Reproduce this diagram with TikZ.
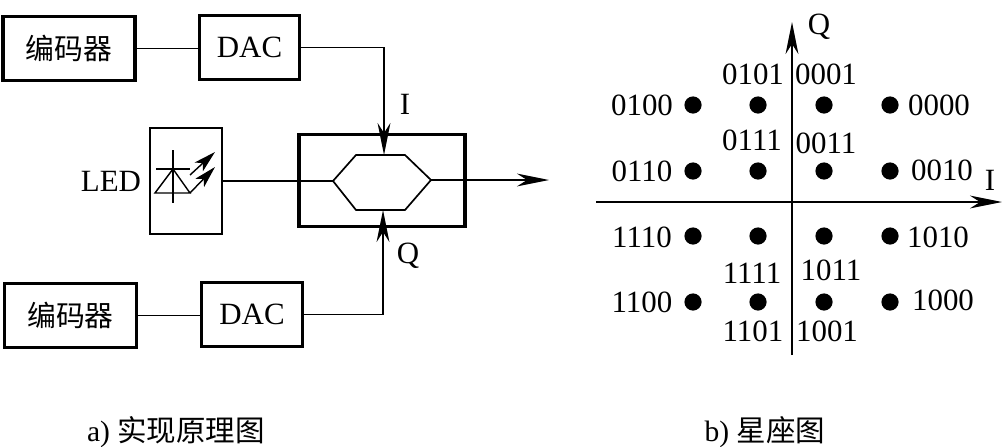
\documentclass[tikz,border=0pt]{standalone}
\usepackage{fontspec}
\setmainfont{Liberation Serif}
\newfontfamily\cjk{Noto Sans CJK SC}
\usetikzlibrary{arrows.meta,positioning,calc}
\begin{document}
\begin{tikzpicture}[
    x=0.025cm, y=-0.025cm,
    block/.style={rectangle, draw, line width=2.2pt, minimum height=1.6cm, align=center, inner sep=0pt, font=\fontsize{22}{24}\selectfont},
    thinbox/.style={rectangle, draw, line width=1pt, inner sep=0pt},
    label/.style={inner sep=0pt, font=\fontsize{22}{24}\selectfont},
    caption/.style={inner sep=0pt, font=\fontsize{21}{24}\selectfont},
    pointd/.style={circle, fill=black, inner sep=0pt, minimum size=0.43cm},
    wire/.style={line width=1pt},
    arrow/.style={-{Stealth[length=0.8cm, width=0.32cm, inset=0.25cm]}, line width=1pt},
    bigwire/.style={line width=1.6pt},
    beam/.style={-{Stealth[length=0.55cm, width=0.3cm, inset=0.14cm]}, line width=1pt}
]
    \useasboundingbox (0,0) rectangle (1002,447);

    % Left: blocks
    \node[block, minimum width=3.3cm] (enc1) at (69,48.5) {\fontsize{20.5}{24}\selectfont\cjk 编码器};
    \node[block, minimum width=2.52cm] (dac1) at (249.5,47.5) {DAC};
    \node[block, minimum width=3.3cm] (enc2) at (70.5,315.5) {\fontsize{20.5}{24}\selectfont\cjk 编码器};
    \node[block, minimum width=2.52cm] (dac2) at (252,314.5) {DAC};
    \node[thinbox, minimum width=1.8cm, minimum height=2.65cm] (led) at (186,181) {};
    \node[block, minimum width=4.15cm, minimum height=2.3cm] (mod) at (382,180.5) {};
    \node[label, left=0.2cm of led] (ledtext) {LED};

    % Hexagon
    \coordinate (hexl) at (333,181);
    \coordinate (hexr) at (431,180);
    \coordinate (hextl) at (356,155);
    \coordinate (hext) at (384,155);
    \coordinate (hextr) at (405,155);
    \coordinate (hexbl) at (356,210);
    \coordinate (hexb) at (383,210);
    \coordinate (hexbr) at (405,210);
    \draw[line width=1.2pt] (hexl) -- (hextl) -- (hextr) -- (hexr) -- (hexbr) -- (hexbl) -- cycle;

    % LED symbol
    \coordinate (dtop) at (173,150);
    \coordinate (dbot) at (173,203);
    \coordinate (barl) at (156,169);
    \coordinate (barr) at (190,169);
    \coordinate (apex) at (173,169);
    \coordinate (basel) at (155,193);
    \coordinate (baser) at (190,193);
    \coordinate (ray1) at (190,175);
    \coordinate (ray1e) at (215,152);
    \coordinate (ray2e) at (215,167);
    \draw[wire] (dtop) -- (dbot);
    \draw[wire] (barl) -- (barr);
    \draw[wire] (basel) -- (baser) -- (apex) -- cycle;
    \draw[beam] (ray1) -- (ray1e);
    \draw[beam] (baser) -- (ray2e);

    % Connections
    \coordinate (outend) at (549,180);
    \draw[wire] (enc1.east) -- (enc1.east -| dac1.west);
    \draw[wire] (enc2.east) -- (enc2.east -| dac2.west);
    \draw[wire] (led.east |- hexl) -- (hexl);
    \draw[arrow] (hexr) -- (outend);
    \draw[arrow] (dac1.east) -| (hext);
    \draw[arrow] (dac2.east) -| (hexb);
    \node[label] (itext) at (405,104) {I};
    \node[label] (qtext) at (408,256) {Q};

    % Constellation
    \foreach \x/\cx in {693/a,758/b,824/c,890/d}
        \foreach \y/\cy in {105/1,171/2,236/3,302/4}
            \node[pointd] (p\cx\cy) at (\x,\y) {};

    % Axes
    \coordinate (ileft) at (596,202);
    \coordinate (imid) at (812,202);
    \coordinate (iend) at (1002,202);
    \coordinate (qbot) at (792,355);
    \coordinate (qmid) at (792,97);
    \coordinate (qend) at (792,22);
    \draw[bigwire] (ileft) -- (imid);
    \draw[arrow] (imid) -- (iend);
    \draw[wire] (qbot) -- (qmid);
    \draw[arrow, line width=1.6pt] (qmid) -- (qend);
    \node[label] (ilabel) at (990,180) {I};
    \node[label] (qlabel) at (819,27) {Q};

    \foreach \x/\y/\t in {642/105/0100,939/105/0000,753/74/0101,826/74/0001,
        752/140/0111,826/143/0011,642/171/0110,942/170/0010,
        642/237/1110,938/237/1010,752/273/1111,831/270/1011,
        642/302/1100,943/300/1000,753/331/1101,827/331/1001}
        \node[label] (c\t) at (\x,\y) {\t};

    % Captions
    \node[caption] (capa) at (176,432) {a) {\cjk 实现原理图}};
    \node[caption] (capb) at (765,432) {b) {\cjk 星座图}};
\end{tikzpicture}
\end{document}
